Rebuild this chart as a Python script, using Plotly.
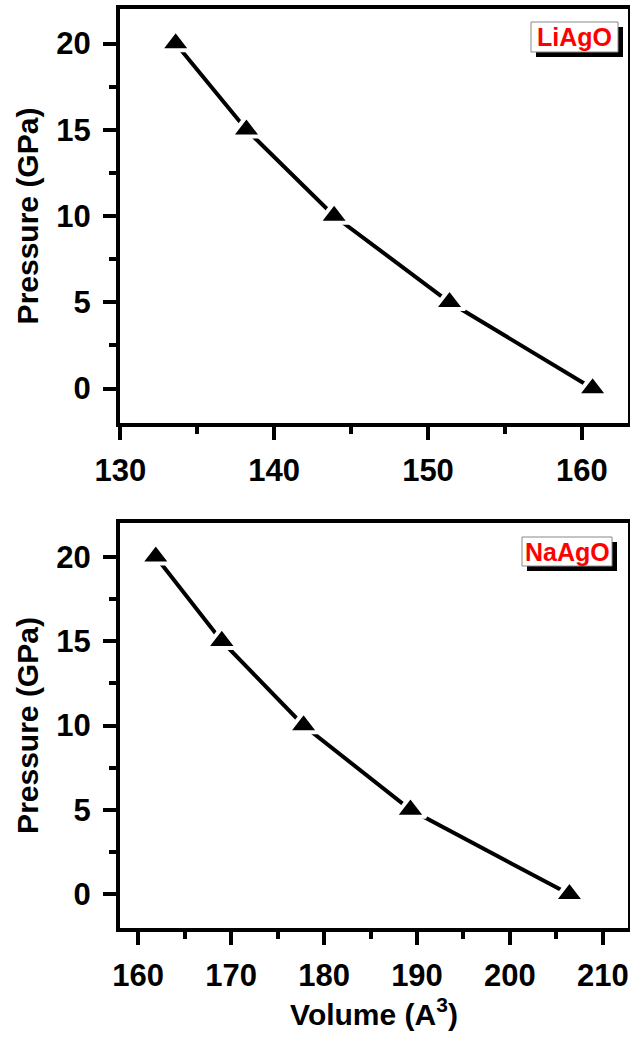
import plotly.graph_objects as go

# Data
li_volume = [133.6, 138.2, 143.9, 151.4, 160.7]
li_pressure = [20, 15, 10, 5, 0]
na_volume = [161.9, 169.0, 177.8, 189.3, 206.4]
na_pressure = [20, 15, 10, 5, 0]
labels = ["LiAgO", "NaAgO"]

W, H = 630, 1038
FONT = "Liberation Sans"

fig = go.Figure()

def add_series(x, y, xa, ya):
    fig.add_trace(go.Scatter(
        x=x, y=y, xaxis=xa, yaxis=ya, mode="lines+markers",
        line=dict(color="black", width=4),
        marker=dict(symbol="triangle-up", size=27, color="black",
                    line=dict(color="white", width=4)),
        showlegend=False, cliponaxis=False))

add_series(li_volume, li_pressure, "x", "y")
add_series(na_volume, na_pressure, "x2", "y2")

x_dom = [120 / W, 628 / W]
top_dom = [1 - 423 / H, 1 - 9 / H]
bot_dom = [1 - 928 / H, 1 - 523 / H]

tickfont = dict(family=FONT, size=31, color="black")
titlefont = dict(family=FONT, size=30, color="black")

def xaxis_cfg(domain, anchor, rng, dtick, title=None):
    d = dict(domain=domain, anchor=anchor, range=rng, dtick=dtick, tick0=0,
             showline=True, linewidth=4, linecolor="black", mirror=True,
             ticks="outside", ticklen=13, tickwidth=4, tickcolor="black",
             minor=dict(ticks="outside", ticklen=7, tickwidth=4, tickcolor="black", dtick=dtick / 2),
             showgrid=False, zeroline=False, tickfont=tickfont,
             tickprefix="<b>", ticksuffix="</b>",
             ticklabelstandoff=4, automargin=False)
    if title:
        d["title"] = dict(text=title, font=titlefont, standoff=2)
    return d

def yaxis_cfg(domain, anchor):
    return dict(domain=domain, anchor=anchor, range=[-2, 22], dtick=5, tick0=0,
                showline=True, linewidth=4, linecolor="black", mirror=True,
                ticks="outside", ticklen=13, tickwidth=4, tickcolor="black",
                minor=dict(ticks="outside", ticklen=7, tickwidth=4, tickcolor="black", dtick=2.5),
                showgrid=False, zeroline=False, tickfont=tickfont,
                tickprefix="<b>", ticksuffix="</b>",
                ticklabelstandoff=6, automargin=False,
                title=dict(text="<b>Pressure (GPa)</b>", font=titlefont, standoff=10))

fig.update_layout(
    width=W, height=H, margin=dict(l=0, r=0, t=0, b=0),
    paper_bgcolor="white", plot_bgcolor="white",
    xaxis=xaxis_cfg(x_dom, "y", [129.98, 163.0], 10),
    yaxis=yaxis_cfg(top_dom, "x"),
    xaxis2=xaxis_cfg(x_dom, "y2", [158.05, 212.7], 10, "<b>Volume (A<sup>3</sup>)</b>"),
    yaxis2=yaxis_cfg(bot_dom, "x2"),
)

# Label boxes (pixel positions -> paper coords) with drop shadow
def px(x):
    return x / W

def py(y):
    return 1 - y / H

boxes = [(labels[0], 531, 22, 618, 52), (labels[1], 522, 537, 612, 566)]
for text, x0, y0, x1, y1 in boxes:
    fig.add_shape(type="rect", xref="paper", yref="paper",
                  x0=px(x0 + 5), x1=px(x1 + 5), y0=py(y1 + 5), y1=py(y0 + 5),
                  fillcolor="black", line=dict(width=0), layer="above")
    fig.add_shape(type="rect", xref="paper", yref="paper",
                  x0=px(x0), x1=px(x1), y0=py(y1), y1=py(y0),
                  fillcolor="white", line=dict(color="#888888", width=1), layer="above")
    fig.add_annotation(text=f"<b>{text}</b>", xref="paper", yref="paper",
                       x=px((x0 + x1) / 2), y=py((y0 + y1) / 2),
                       xanchor="center", yanchor="middle", showarrow=False,
                       font=dict(family=FONT, size=25, color="#ff0000"))

fig.write_html("out.html")
